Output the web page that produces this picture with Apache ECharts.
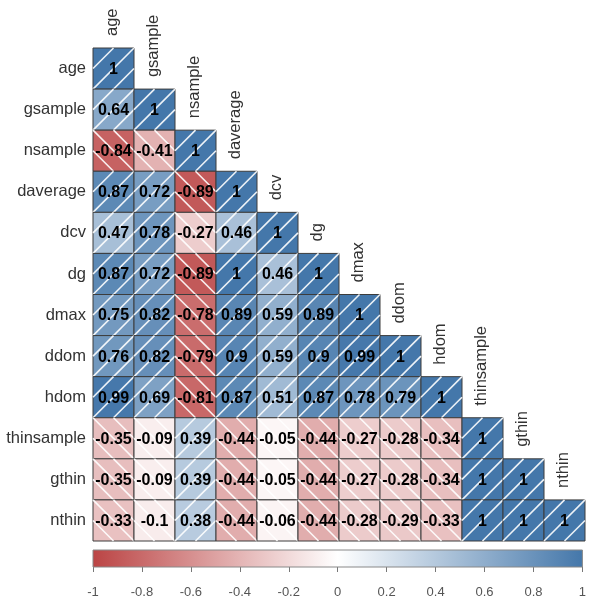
<!DOCTYPE html>
<html><head><meta charset="utf-8">
<script src="https://cdn.jsdelivr.net/npm/echarts@6/dist/echarts.min.js"></script>
<style>html,body{margin:0;padding:0;background:#fff}#chart{width:589px;height:603px}</style>
</head><body><div id="chart"></div>
<script>
const variables = ['age','gsample','nsample','daverage','dcv','dg','dmax','ddom','hdom','thinsample','gthin','nthin'];

const corr_age        = [1];
const corr_gsample    = [0.64, 1];
const corr_nsample    = [-0.84, -0.41, 1];
const corr_daverage   = [0.87, 0.72, -0.89, 1];
const corr_dcv        = [0.47, 0.78, -0.27, 0.46, 1];
const corr_dg         = [0.87, 0.72, -0.89, 1, 0.46, 1];
const corr_dmax       = [0.75, 0.82, -0.78, 0.89, 0.59, 0.89, 1];
const corr_ddom       = [0.76, 0.82, -0.79, 0.9, 0.59, 0.9, 0.99, 1];
const corr_hdom       = [0.99, 0.69, -0.81, 0.87, 0.51, 0.87, 0.78, 0.79, 1];
const corr_thinsample = [-0.35, -0.09, 0.39, -0.44, -0.05, -0.44, -0.27, -0.28, -0.34, 1];
const corr_gthin      = [-0.35, -0.09, 0.39, -0.44, -0.05, -0.44, -0.27, -0.28, -0.34, 1, 1];
const corr_nthin      = [-0.33, -0.1, 0.38, -0.44, -0.06, -0.44, -0.28, -0.29, -0.33, 1, 1, 1];

const corrRows = [corr_age, corr_gsample, corr_nsample, corr_daverage, corr_dcv, corr_dg,
  corr_dmax, corr_ddom, corr_hdom, corr_thinsample, corr_gthin, corr_nthin];

const colorbarRange = [-1, 1];
const palette = ['#BB4444', '#FFFFFF', '#4477AA'];

const cellData = [];
corrRows.forEach((row, i) => row.forEach((val, j) => cellData.push([j, i, val])));

const FONT = '"Liberation Sans", Arial, Helvetica, sans-serif';

function renderCell(params, api) {
  const col = api.value(0), row = api.value(1), val = api.value(2);
  const c = api.coord([col, row]);
  const s = api.size([1, 1]);
  const w = s[0], h = s[1];
  const l = c[0] - w / 2, t = c[1] - h / 2, b = t + h;
  const children = [{
    type: 'rect', shape: { x: l, y: t, width: w, height: h },
    style: { fill: api.visual('color'), stroke: '#3c3c3c', lineWidth: 1 }
  }];
  [-0.5, 0, 0.5].forEach(d => {
    const u0 = Math.max(0, d), u1 = Math.min(1, 1 + d);
    const v0 = u0 - d, v1 = u1 - d;
    let a0 = u0, a1 = u1;
    if (val < 0) { a0 = 1 - u0; a1 = 1 - u1; }
    children.push({
      type: 'line',
      shape: { x1: l + a0 * w, y1: b - v0 * h, x2: l + a1 * w, y2: b - v1 * h },
      style: { stroke: 'rgba(255,255,255,0.9)', lineWidth: 1.6 }
    });
  });
  children.push({
    type: 'text', x: c[0], y: c[1] + 1,
    style: { text: String(val), fill: '#000', fontSize: 16, fontWeight: 'bold', fontFamily: FONT,
      align: 'center', verticalAlign: 'middle' }
  });
  if (col === row) {
    children.push({
      type: 'text', x: c[0] - 1, y: t - 12, rotation: Math.PI / 2,
      style: { text: variables[row], fill: '#333', fontSize: 16.5, fontFamily: FONT,
        align: 'left', verticalAlign: 'middle' }
    });
  }
  return { type: 'group', children };
}

function renderBar(params, api) {
  const p0 = api.coord([api.value(0), 0]);
  const p1 = api.coord([api.value(1), 1]);
  const stops = palette.map((col, i) => ({ offset: i / (palette.length - 1), color: col }));
  return {
    type: 'rect',
    shape: { x: p0[0], y: p1[1], width: p1[0] - p0[0], height: p0[1] - p1[1] },
    style: { fill: new echarts.graphic.LinearGradient(0, 0, 1, 0, stops), stroke: '#888', lineWidth: 1 }
  };
}

const chart = echarts.init(document.getElementById('chart'));
chart.setOption({
  backgroundColor: '#fff',
  animation: false,
  grid: [
    { left: 93, top: 48, width: 492, height: 493 },
    { left: 93, top: 550, width: 492, height: 17 }
  ],
  xAxis: [
    { type: 'category', gridIndex: 0, data: variables, show: false },
    { type: 'value', gridIndex: 1, min: colorbarRange[0], max: colorbarRange[1], interval: 0.2,
      axisLine: { show: false }, splitLine: { show: false },
      axisTick: { show: true, length: 5, lineStyle: { color: '#777' } },
      axisLabel: { color: '#555', fontSize: 13, fontFamily: FONT, margin: 19 } }
  ],
  yAxis: [
    { type: 'category', gridIndex: 0, data: variables, inverse: true,
      axisLine: { show: false }, axisTick: { show: false }, splitLine: { show: false },
      axisLabel: { color: '#333', fontSize: 16.5, fontFamily: FONT, margin: 7 } },
    { type: 'value', gridIndex: 1, min: 0, max: 1, show: false }
  ],
  visualMap: {
    type: 'continuous', min: -1, max: 1, dimension: 2, seriesIndex: 0, show: false,
    inRange: { color: palette }
  },
  series: [
    { type: 'custom', xAxisIndex: 0, yAxisIndex: 0, data: cellData, renderItem: renderCell,
      encode: { x: 0, y: 1 } },
    { type: 'custom', xAxisIndex: 1, yAxisIndex: 1, data: [colorbarRange], renderItem: renderBar,
      encode: { x: 0, y: 1 } }
  ]
});
</script></body></html>
